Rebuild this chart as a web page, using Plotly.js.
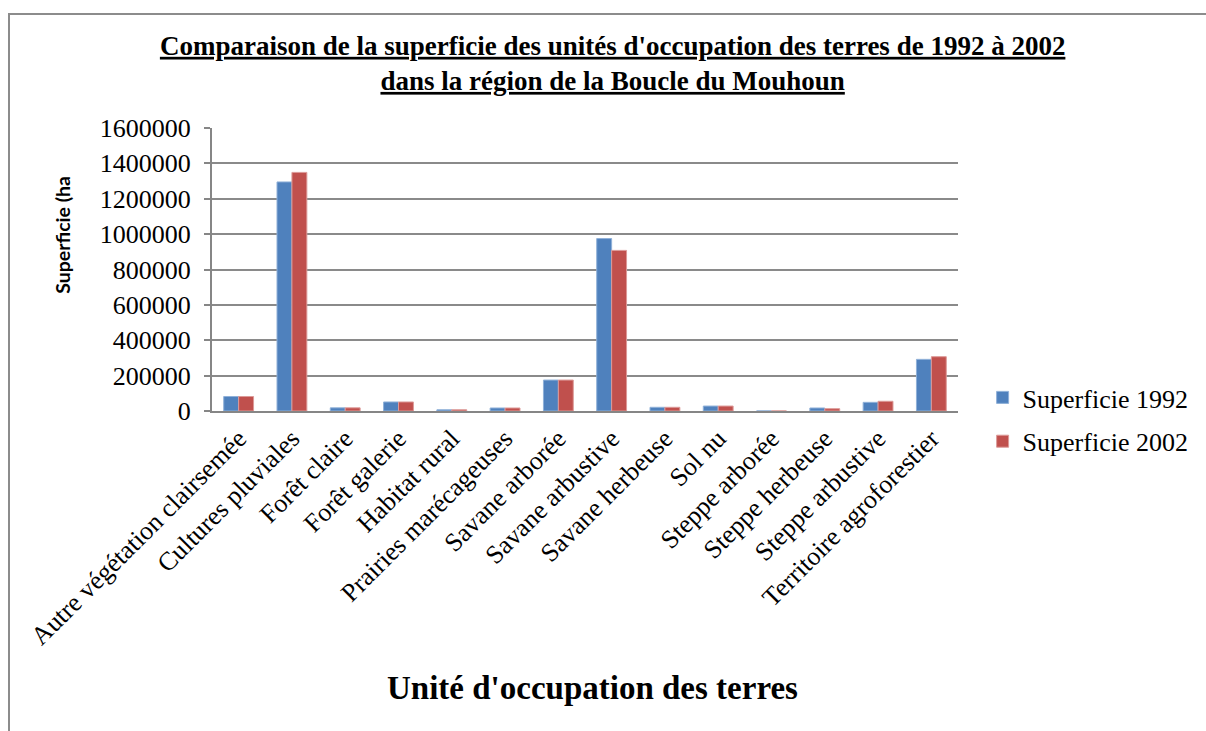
<!DOCTYPE html>
<html>
<head>
<meta charset="utf-8">
<script src="https://cdn.plot.ly/plotly-3.0.1.min.js"></script>
<style>
  html, body { margin: 0; padding: 0; background: #fff; }
  #chart { width: 1206px; height: 731px; position: relative; }
  #frame { position: absolute; left: 8px; top: 13px; width: 1210px; height: 730px;
           border-left: 2px solid #8c8c8c; border-top: 2px solid #8c8c8c; pointer-events: none; }
</style>
</head>
<body>
<div id="chart"></div>
<div id="frame"></div>
<script>
const categories = [
  "Autre végétation clairsemée", "Cultures pluviales", "Forêt claire", "Forêt galerie",
  "Habitat rural", "Prairies marécageuses", "Savane arborée", "Savane arbustive",
  "Savane herbeuse", "Sol nu", "Steppe arborée", "Steppe herbeuse",
  "Steppe arbustive", "Territoire agroforestier"
];
const superficie1992 = [82000, 1295000, 18000, 51000, 7000, 17000, 175000, 975000, 21000, 28000, 300, 17000, 49000, 292000];
const superficie2002 = [82000, 1349000, 18000, 51000, 7000, 17000, 175000, 908000, 21000, 28000, 300, 13000, 55000, 307000];
const seriesNames = ["Superficie 1992", "Superficie 2002"];
const yTicks = [0, 200000, 400000, 600000, 800000, 1000000, 1200000, 1400000, 1600000];

const serif = "Liberation Serif, Times New Roman, serif";

const traces = [
  { type: "bar", name: seriesNames[0], x: categories, y: superficie1992, legendgroup: "a",
    marker: { color: "#4F81BD", line: { color: "#8fb0d8", width: 1 } } },
  { type: "bar", name: seriesNames[1], x: categories, y: superficie2002, legendgroup: "b",
    marker: { color: "#C0504D", line: { color: "#dc9a98", width: 1 } } }
];

const layout = {
  width: 1206, height: 731,
  margin: { l: 212, r: 245, t: 128, b: 320 },
  paper_bgcolor: "#fff", plot_bgcolor: "#fff",
  barmode: "group", bargap: 0.44, bargroupgap: 0,
  showlegend: true,
  title: {
    text: "<b><u>Comparaison de la superficie des unités d'occupation des terres de 1992 à 2002</u></b><br><b><u>dans la région de la Boucle du Mouhoun</u></b>",
    font: { family: serif, size: 27, color: "#000" },
    xref: "container", x: 0.508, xanchor: "center",
    yref: "container", y: 0.925, yanchor: "top"
  },
  xaxis: {
    type: "category", tickangle: -45,
    tickfont: { family: serif, size: 26, color: "#000" },
    showline: true, linecolor: "#868686", linewidth: 2,
    ticks: "", showgrid: false, automargin: false
  },
  yaxis: {
    range: [0, 1600000], tickvals: yTicks, ticktext: yTicks.map(String),
    tickfont: { family: serif, size: 26, color: "#000" },
    showline: true, linecolor: "#868686", linewidth: 2,
    ticks: "outside", ticklen: 6, tickcolor: "#868686", tickwidth: 2,
    ticklabelstandoff: 8,
    showgrid: true, gridcolor: "#8a8a8a", gridwidth: 2,
    zeroline: false, automargin: false
  },
  legend: {
    x: 1.033, xanchor: "left", y: -0.03, yanchor: "middle",
    font: { family: serif, size: 26, color: "#000" },
    tracegroupgap: 7, traceorder: "grouped",
    bgcolor: "rgba(0,0,0,0)"
  },
  annotations: [
    { text: "<b>Unité d'occupation des terres</b>", xref: "paper", yref: "paper",
      x: 0.51, y: -0.979, xanchor: "center", yanchor: "middle", showarrow: false,
      font: { family: serif, size: 33, color: "#000" } },
    { text: "<b>Superficie (ha</b>", xref: "paper", yref: "paper", textangle: -90,
      x: -0.2, y: 0.622, xanchor: "center", yanchor: "middle", showarrow: false,
      font: { family: "Lato, Open Sans, sans-serif", size: 19.5, color: "#000" } }
  ]
};

Plotly.newPlot("chart", traces, layout, { displayModeBar: false, staticPlot: true });
</script>
</body>
</html>
